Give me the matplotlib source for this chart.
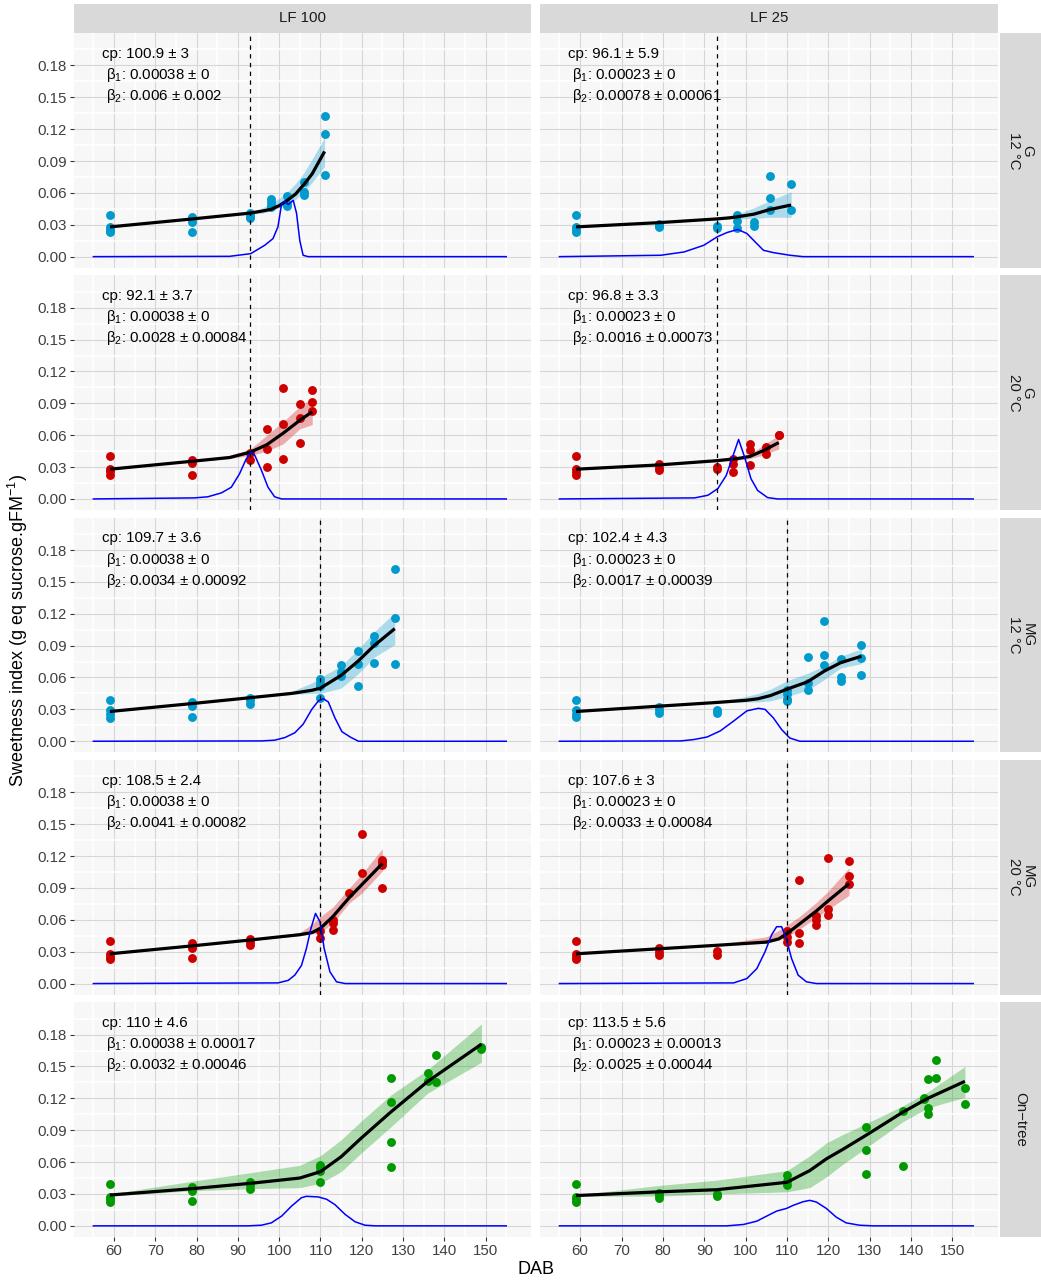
import matplotlib
matplotlib.use("Agg")
import matplotlib.pyplot as plt

plt.rcParams["font.family"] = ["Liberation Sans", "DejaVu Sans"]
plt.rcParams["mathtext.fontset"] = "custom"
plt.rcParams["mathtext.rm"] = "Liberation Sans"
plt.rcParams["mathtext.it"] = "Liberation Sans:italic"
plt.rcParams["mathtext.default"] = "regular"

# facet labels
col_labels = ["LF 100", "LF 25"]
row_labels = ["G\n12 °C", "G\n20 °C", "MG\n12 °C", "MG\n20 °C", "On\u2212tree"]
row_colors = ["#009ACD", "#CD0000", "#009ACD", "#CD0000", "#009A00"]
row_vline = [93, 93, 110, 110, None]

x_ticks = [60, 70, 80, 90, 100, 110, 120, 130, 140, 150]
y_ticks = [0.00, 0.03, 0.06, 0.09, 0.12, 0.15, 0.18]

# ---- G 12 °C, LF 100
a1_px = [59, 59, 59, 59, 59, 79, 79, 79, 79, 93, 93, 93, 98, 98, 98, 98, 102, 102, 102, 106, 106, 106, 111, 111, 111]
a1_py = [0.039, 0.028, 0.026, 0.024, 0.023, 0.037, 0.035, 0.033, 0.023, 0.041, 0.038, 0.036,
         0.054, 0.051, 0.049, 0.047, 0.057, 0.050, 0.048, 0.070, 0.061, 0.058, 0.132, 0.115, 0.077]
a1_fx = [59, 79, 93, 96, 98, 100, 102, 104, 106, 108, 111]
a1_fy = [0.028, 0.0355, 0.041, 0.043, 0.0445, 0.048, 0.053, 0.059, 0.068, 0.078, 0.099]
a1_lo = [0.0275, 0.035, 0.040, 0.041, 0.043, 0.046, 0.049, 0.054, 0.061, 0.070, 0.085]
a1_hi = [0.0285, 0.036, 0.042, 0.046, 0.050, 0.055, 0.061, 0.069, 0.079, 0.092, 0.112]
a1_dx = [55, 88, 93.1, 96.5, 98.5, 99.7, 100.6, 101.4, 102.2, 103.4, 104.2, 105.0, 105.8, 107, 155]
a1_dy = [0, 0.0003, 0.0028, 0.0107, 0.017, 0.028, 0.050, 0.052, 0.049, 0.053, 0.041, 0.015, 0.0013, 0, 0]
a1_txt = ["100.9 ± 3", "0.00038 ± 0", "0.006 ± 0.002"]

# ---- G 12 °C, LF 25
b1_px = [59, 59, 59, 59, 79, 79, 79, 93, 93, 98, 98, 98, 102, 102, 106, 106, 106, 111, 111]
b1_py = [0.039, 0.028, 0.025, 0.023, 0.031, 0.029, 0.028, 0.029, 0.027, 0.039, 0.034, 0.027,
         0.033, 0.029, 0.076, 0.055, 0.044, 0.068, 0.044]
b1_fx = [59, 79, 93, 96, 98, 102, 106, 111]
b1_fy = [0.028, 0.032, 0.0355, 0.0365, 0.0375, 0.040, 0.0445, 0.0486]
b1_lo = [0.0275, 0.0315, 0.035, 0.0355, 0.0355, 0.036, 0.037, 0.037]
b1_hi = [0.0285, 0.0325, 0.036, 0.038, 0.040, 0.046, 0.053, 0.061]
b1_dx = [55, 79.5, 85.1, 89.9, 93.1, 95.5, 98.1, 100.3, 102.7, 104.3, 106.7, 110.7, 113.9, 155]
b1_dy = [0, 0.0013, 0.0044, 0.0107, 0.0186, 0.0227, 0.0256, 0.0218, 0.0123, 0.006, 0.0038, 0.0013, 0, 0]
b1_txt = ["96.1 ± 5.9", "0.00023 ± 0", "0.00078 ± 0.00061"]

# ---- G 20 °C, LF 100
a2_px = [59, 59, 59, 59, 79, 79, 79, 93, 93, 97, 97, 97, 101, 101, 101, 105, 105, 105, 108, 108, 108]
a2_py = [0.040, 0.028, 0.026, 0.023, 0.037, 0.034, 0.023, 0.043, 0.037, 0.066, 0.047, 0.030,
         0.104, 0.071, 0.0375, 0.089, 0.076, 0.053, 0.103, 0.091, 0.083]
a2_fx = [59, 79, 88, 93, 97, 101, 105, 108]
a2_fy = [0.028, 0.0355, 0.039, 0.044, 0.051, 0.062, 0.074, 0.082]
a2_lo = [0.0275, 0.035, 0.038, 0.041, 0.045, 0.052, 0.066, 0.070]
a2_hi = [0.0285, 0.036, 0.041, 0.047, 0.060, 0.073, 0.087, 0.095]
a2_dx = [55, 79.5, 82.7, 86, 88.4, 90.4, 92, 93.1, 94.1, 95.7, 97.3, 98.9, 100.6, 155]
a2_dy = [0, 0.001, 0.002, 0.0057, 0.011, 0.0237, 0.0375, 0.044, 0.041, 0.027, 0.011, 0.002, 0, 0]
a2_txt = ["92.1 ± 3.7", "0.00038 ± 0", "0.0028 ± 0.00084"]

# ---- G 20 °C, LF 25
b2_px = [59, 59, 59, 59, 79, 79, 79, 93, 93, 97, 97, 97, 101, 101, 101, 105, 105, 108, 108]
b2_py = [0.040, 0.028, 0.0255, 0.023, 0.0325, 0.0287, 0.027, 0.030, 0.028, 0.038, 0.033, 0.025,
         0.052, 0.046, 0.032, 0.049, 0.042, 0.0605, 0.060]
b2_fx = [59, 79, 93, 98, 101, 104, 108]
b2_fy = [0.028, 0.032, 0.036, 0.038, 0.040, 0.045, 0.053]
b2_lo = [0.0275, 0.0315, 0.0355, 0.0365, 0.038, 0.041, 0.047]
b2_hi = [0.0285, 0.0325, 0.0365, 0.039, 0.042, 0.050, 0.060]
b2_dx = [55, 87.7, 90.9, 93.3, 95.3, 96.9, 98.3, 99.7, 101.3, 102.9, 105.3, 107.7, 155]
b2_dy = [0, 0.001, 0.0035, 0.0098, 0.022, 0.040, 0.056, 0.040, 0.019, 0.008, 0.0013, 0, 0]
b2_txt = ["96.8 ± 3.3", "0.00023 ± 0", "0.0016 ± 0.00073"]

# ---- MG 12 °C, LF 100
a3_px = [59, 59, 59, 59, 79, 79, 79, 93, 93, 93, 110, 110, 110, 110, 115, 115, 115,
         119, 119, 119, 123, 123, 123, 128, 128, 128]
a3_py = [0.039, 0.029, 0.026, 0.022, 0.0365, 0.033, 0.023, 0.041, 0.039, 0.0355,
         0.0585, 0.055, 0.052, 0.041, 0.072, 0.065, 0.061, 0.085, 0.073, 0.052,
         0.099, 0.092, 0.074, 0.162, 0.116, 0.073]
a3_fx = [59, 79, 93, 103, 108, 110, 115, 119, 123, 128]
a3_fy = [0.028, 0.0355, 0.041, 0.045, 0.048, 0.050, 0.062, 0.075, 0.090, 0.106]
a3_lo = [0.0275, 0.035, 0.0405, 0.044, 0.045, 0.045, 0.050, 0.063, 0.079, 0.091]
a3_hi = [0.0285, 0.036, 0.0415, 0.047, 0.055, 0.060, 0.071, 0.086, 0.103, 0.121]
a3_dx = [55, 95.7, 98.9, 101.4, 103.8, 105.8, 107.9, 109.5, 110.7, 111.9, 113.5, 115.2, 117.2, 119.2, 155]
a3_dy = [0, 0.0003, 0.001, 0.0035, 0.008, 0.016, 0.030, 0.038, 0.040, 0.037, 0.022, 0.009, 0.004, 0, 0]
a3_txt = ["109.7 ± 3.6", "0.00038 ± 0", "0.0034 ± 0.00092"]

# ---- MG 12 °C, LF 25
b3_px = [59, 59, 59, 59, 79, 79, 79, 93, 93, 110, 110, 110, 110, 115, 115, 115,
         119, 119, 119, 123, 123, 123, 128, 128, 128]
b3_py = [0.039, 0.029, 0.026, 0.023, 0.032, 0.029, 0.027, 0.0296, 0.027,
         0.048, 0.044, 0.040, 0.038, 0.079, 0.055, 0.048, 0.113, 0.0815, 0.072,
         0.077, 0.060, 0.057, 0.091, 0.078, 0.062]
b3_fx = [59, 93, 100, 103, 106, 110, 115, 119, 123, 128]
b3_fy = [0.028, 0.0365, 0.0385, 0.040, 0.043, 0.049, 0.056, 0.066, 0.074, 0.080]
b3_lo = [0.0275, 0.036, 0.037, 0.037, 0.038, 0.042, 0.048, 0.058, 0.069, 0.073]
b3_hi = [0.0285, 0.037, 0.042, 0.045, 0.049, 0.057, 0.064, 0.071, 0.080, 0.087]
b3_dx = [55, 84.3, 87.5, 90.7, 93.9, 97.1, 100.3, 103.1, 104.7, 106.7, 108.7, 110.7, 113.1, 155]
b3_dy = [0, 0.0003, 0.0016, 0.004, 0.0098, 0.019, 0.0286, 0.031, 0.030, 0.022, 0.011, 0.003, 0, 0]
b3_txt = ["102.4 ± 4.3", "0.00023 ± 0", "0.0017 ± 0.00039"]

# ---- MG 20 °C, LF 100
a4_px = [59, 59, 59, 59, 79, 79, 79, 79, 93, 93, 93, 110, 110, 113, 113, 113,
         117, 120, 120, 125, 125, 125, 125]
a4_py = [0.040, 0.028, 0.025, 0.023, 0.038, 0.0346, 0.033, 0.0236, 0.0415, 0.0387, 0.036,
         0.049, 0.0425, 0.060, 0.057, 0.050, 0.085, 0.141, 0.104, 0.116, 0.114, 0.112, 0.090]
a4_fx = [59, 79, 93, 105, 108, 110, 113, 117, 120, 125]
a4_fy = [0.028, 0.0355, 0.041, 0.046, 0.048, 0.052, 0.063, 0.081, 0.093, 0.113]
a4_lo = [0.0275, 0.035, 0.0405, 0.045, 0.047, 0.048, 0.057, 0.076, 0.085, 0.106]
a4_hi = [0.0285, 0.036, 0.0415, 0.048, 0.056, 0.063, 0.072, 0.090, 0.103, 0.127]
a4_dx = [55, 99.7, 102.2, 103.8, 105.4, 106.6, 107.7, 108.8, 109.9, 110.9, 112.3, 113.9, 116, 155]
a4_dy = [0, 0.0006, 0.003, 0.008, 0.017, 0.033, 0.052, 0.066, 0.058, 0.033, 0.011, 0.0016, 0, 0]
a4_txt = ["108.5 ± 2.4", "0.00038 ± 0", "0.0041 ± 0.00082"]

# ---- MG 20 °C, LF 25
b4_px = [59, 59, 59, 59, 79, 79, 79, 93, 93, 110, 110, 110, 113, 113, 113,
         117, 117, 117, 120, 120, 120, 125, 125, 125]
b4_py = [0.040, 0.028, 0.025, 0.023, 0.033, 0.030, 0.027, 0.0305, 0.027,
         0.049, 0.044, 0.039, 0.0975, 0.048, 0.038, 0.064, 0.060, 0.055,
         0.118, 0.070, 0.0645, 0.115, 0.1015, 0.094]
b4_fx = [59, 93, 105, 108, 110, 113, 117, 120, 125]
b4_fy = [0.028, 0.036, 0.039, 0.042, 0.047, 0.056, 0.068, 0.078, 0.094]
b4_lo = [0.0275, 0.0355, 0.038, 0.041, 0.044, 0.051, 0.062, 0.070, 0.083]
b4_hi = [0.0285, 0.0365, 0.044, 0.050, 0.055, 0.063, 0.076, 0.087, 0.109]
b4_dx = [55, 97.1, 100.3, 102.7, 104.7, 106.3, 107.5, 108.7, 109.8, 111.1, 112.7, 114.7, 117.1, 155]
b4_dy = [0, 0.0006, 0.0047, 0.014, 0.030, 0.046, 0.0535, 0.0535, 0.0425, 0.0236, 0.0079, 0.0016, 0, 0]
b4_txt = ["107.6 ± 3", "0.00023 ± 0", "0.0033 ± 0.00084"]

# ---- On-tree, LF 100
a5_px = [59, 59, 59, 59, 79, 79, 79, 79, 93, 93, 93, 110, 110, 110, 110,
         127, 127, 127, 127, 136, 136, 138, 138, 149, 149]
a5_py = [0.039, 0.027, 0.025, 0.0224, 0.037, 0.035, 0.033, 0.023, 0.041, 0.038, 0.035,
         0.057, 0.055, 0.052, 0.041, 0.1395, 0.117, 0.079, 0.055, 0.144, 0.136,
         0.161, 0.1358, 0.1686, 0.166]
a5_fx = [59, 79, 93, 105, 110, 115, 120, 127, 136, 149]
a5_fy = [0.029, 0.035, 0.040, 0.045, 0.051, 0.065, 0.083, 0.107, 0.136, 0.171]
a5_lo = [0.028, 0.033, 0.035, 0.036, 0.040, 0.051, 0.069, 0.093, 0.125, 0.154]
a5_hi = [0.030, 0.042, 0.050, 0.057, 0.066, 0.081, 0.099, 0.123, 0.147, 0.190]
a5_dx = [55, 92.4, 95.7, 98.1, 100.6, 103, 105.4, 106.6, 109.5, 111.5, 113.5, 116, 118.4, 120.8, 123.3, 155]
a5_dy = [0, 0, 0.0006, 0.0028, 0.0092, 0.0186, 0.0265, 0.0278, 0.0272, 0.025, 0.020, 0.0107,
         0.0038, 0.0006, 0, 0]
a5_txt = ["110 ± 4.6", "0.00038 ± 0.00017", "0.0032 ± 0.00046"]

# ---- On-tree, LF 25
b5_px = [59, 59, 59, 59, 79, 79, 79, 93, 93, 110, 110, 110, 129, 129, 129,
         138, 138, 143, 143, 144, 144, 144, 146, 146, 153, 153]
b5_py = [0.039, 0.027, 0.025, 0.0224, 0.031, 0.029, 0.0265, 0.030, 0.028,
         0.048, 0.042, 0.038, 0.0935, 0.071, 0.0486, 0.108, 0.056, 0.1206, 0.119,
         0.138, 0.111, 0.1055, 0.156, 0.139, 0.130, 0.115]
b5_fx = [59, 79, 93, 110, 115.5, 119.5, 123.5, 129, 138, 144, 153]
b5_fy = [0.0285, 0.032, 0.034, 0.041, 0.052, 0.063, 0.072, 0.085, 0.107, 0.120, 0.136]
b5_lo = [0.028, 0.028, 0.030, 0.032, 0.036, 0.046, 0.058, 0.073, 0.098, 0.111, 0.121]
b5_hi = [0.029, 0.038, 0.043, 0.052, 0.066, 0.078, 0.086, 0.096, 0.113, 0.126, 0.150]
b5_dx = [55, 95.5, 99.5, 102.7, 105.1, 107.5, 109.9, 111.5, 113.9, 115.5, 117.1, 119.5,
         121.9, 124.3, 127.5, 130.8, 155]
b5_dy = [0, 0, 0.0013, 0.0044, 0.0092, 0.0139, 0.0164, 0.0193, 0.0227, 0.024, 0.0224,
         0.0164, 0.0082, 0.0028, 0.0006, 0, 0]
b5_txt = ["113.5 ± 5.6", "0.00023 ± 0.00013", "0.0025 ± 0.00044"]

panels = [
    [(a1_px, a1_py, a1_fx, a1_fy, a1_lo, a1_hi, a1_dx, a1_dy, a1_txt),
     (b1_px, b1_py, b1_fx, b1_fy, b1_lo, b1_hi, b1_dx, b1_dy, b1_txt)],
    [(a2_px, a2_py, a2_fx, a2_fy, a2_lo, a2_hi, a2_dx, a2_dy, a2_txt),
     (b2_px, b2_py, b2_fx, b2_fy, b2_lo, b2_hi, b2_dx, b2_dy, b2_txt)],
    [(a3_px, a3_py, a3_fx, a3_fy, a3_lo, a3_hi, a3_dx, a3_dy, a3_txt),
     (b3_px, b3_py, b3_fx, b3_fy, b3_lo, b3_hi, b3_dx, b3_dy, b3_txt)],
    [(a4_px, a4_py, a4_fx, a4_fy, a4_lo, a4_hi, a4_dx, a4_dy, a4_txt),
     (b4_px, b4_py, b4_fx, b4_fy, b4_lo, b4_hi, b4_dx, b4_dy, b4_txt)],
    [(a5_px, a5_py, a5_fx, a5_fy, a5_lo, a5_hi, a5_dx, a5_dy, a5_txt),
     (b5_px, b5_py, b5_fx, b5_fy, b5_lo, b5_hi, b5_dx, b5_dy, b5_txt)],
]

W, H = 1041, 1280
fig = plt.figure(figsize=(W / 100, H / 100), dpi=100)


def px_axes(x0, y0, w, h):
    # pixel box, origin top-left
    return fig.add_axes([x0 / W, 1 - (y0 + h) / H, w / W, h / H])


col_x = [74, 540]
col_w = [457, 458]
row_top = [33, 275.3, 517.6, 759.9, 1002.2]
row_h = 234.8
FS = 10.8
strip_bg = "#D9D9D9"

for r in range(5):
    for c in range(2):
        px, py, fx, fy, lo, hi, dx, dy, txt = panels[r][c]
        col = row_colors[r]
        ax = px_axes(col_x[c], row_top[r], col_w[c], row_h)
        ax.set_facecolor("#F7F7F7")
        for s in ax.spines.values():
            s.set_visible(False)
        ax.set_xlim(50.3, 161.0)
        ax.set_ylim(-0.0105, 0.2105)
        ax.set_xticks(x_ticks)
        ax.set_xticks([55 + 10 * i for i in range(11)], minor=True)
        ax.set_yticks(y_ticks)
        ax.set_yticks([0.015 + 0.03 * i for i in range(7)], minor=True)
        ax.grid(which="minor", color="white", lw=1.1)
        ax.grid(which="major", color="#D6D6D6", lw=0.8)
        ax.set_axisbelow(True)
        ax.tick_params(which="minor", length=0)
        ax.tick_params(which="major", length=3.2, width=0.8, color="#333333",
                       labelsize=FS, labelcolor="#404040", pad=2)
        ax.set_yticklabels(["%.2f" % v for v in y_ticks])
        if c == 1:
            ax.tick_params(axis="y", left=False, labelleft=False)
        if r < 4:
            ax.tick_params(axis="x", bottom=False, labelbottom=False)

        ax.fill_between(fx, lo, hi, color=col, alpha=0.3, lw=0, zorder=2)
        ax.plot(px, py, "o", color=col, ms=6.4, mec="none", zorder=3)
        ax.plot(fx, fy, color="black", lw=2.3, zorder=4, solid_capstyle="butt")
        ax.plot(dx, dy, color="#0000FF", lw=1.1, zorder=5)
        if row_vline[r] is not None:
            ax.axvline(row_vline[r], color="black", lw=0.9, ls=(0, (3.5, 3.5)), zorder=6)

        ax.text(0.061, 0.911, "cp: " + txt[0], transform=ax.transAxes,
                fontsize=FS, color="black", va="center", ha="left", zorder=7)
        ax.text(0.070, 0.821, r"β$_1$: " + txt[1], transform=ax.transAxes,
                fontsize=FS, color="black", va="center", ha="left", zorder=7)
        ax.text(0.070, 0.732, r"β$_2$: " + txt[2], transform=ax.transAxes,
                fontsize=FS, color="black", va="center", ha="left", zorder=7)

    # row strip on the right
    sx = px_axes(1000, row_top[r], 41, row_h)
    sx.set_facecolor(strip_bg)
    sx.set_xticks([])
    sx.set_yticks([])
    for s in sx.spines.values():
        s.set_visible(False)
    sx.text(0.5, 0.5, row_labels[r], rotation=-90, ha="center", va="center",
            fontsize=FS, color="#1A1A1A", transform=sx.transAxes, linespacing=1.0)

for c in range(2):
    st = px_axes(col_x[c], 4, col_w[c], 28.5)
    st.set_facecolor(strip_bg)
    st.set_xticks([])
    st.set_yticks([])
    for s in st.spines.values():
        s.set_visible(False)
    st.text(0.5, 0.5, col_labels[c], ha="center", va="center", fontsize=FS,
            color="#1A1A1A", transform=st.transAxes)

fig.text(536 / W, 1 - 1270 / H, "DAB", ha="center", va="center", fontsize=13)
fig.text(18 / W, 1 - 630 / H, r"Sweetness index (g eq sucrose.gFM$^{-1}$)",
         rotation=90, ha="center", va="center", fontsize=13)

fig.savefig("out.png", dpi=100)
